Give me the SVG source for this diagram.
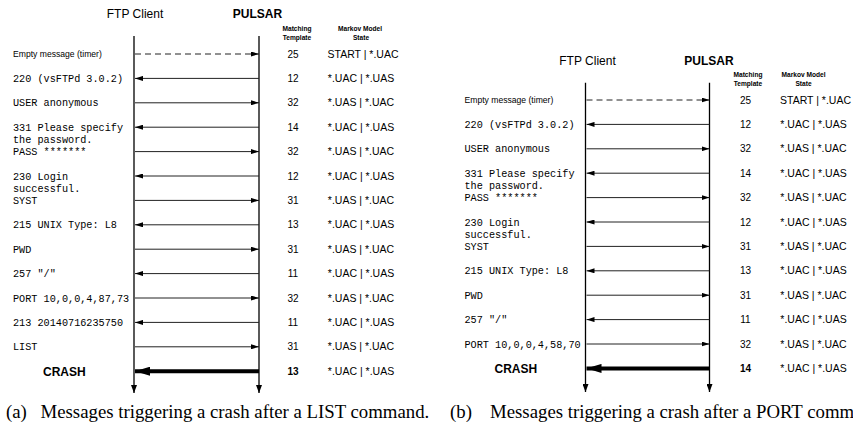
<svg xmlns="http://www.w3.org/2000/svg" width="853" height="434" viewBox="0 0 853 434">
<defs>
<style>
.hdr{font-family:"Liberation Sans",Arial,sans-serif;font-size:12px;fill:#000}
.hdrb{font-family:"Liberation Sans",Arial,sans-serif;font-size:12px;font-weight:bold;fill:#000}
.col{font-family:"Liberation Sans",Arial,sans-serif;font-size:6.6px;font-weight:bold;fill:#000;text-anchor:middle}
.num{font-family:"Liberation Sans",Arial,sans-serif;font-size:10px;fill:#000;text-anchor:middle}
.st{font-family:"Liberation Sans",Arial,sans-serif;font-size:10.5px;fill:#000;text-anchor:middle}
.ms{font-family:"Liberation Mono","Courier New",monospace;font-size:10.2px;fill:#000}
.sn{font-family:"Liberation Sans",Arial,sans-serif;font-size:8.6px;fill:#000}
.crash{font-family:"Liberation Sans",Arial,sans-serif;font-size:12px;font-weight:bold;fill:#000}
.cap{font-family:"Liberation Serif","Times New Roman",serif;font-size:18.8px;fill:#000}
.life{stroke:#000;stroke-width:1.3;fill:none}
.msg{stroke:#222;stroke-width:1;fill:none}
.dash{stroke:#222;stroke-width:1;fill:none;stroke-dasharray:6 4}
.big{stroke:#000;stroke-width:4;fill:none}
</style>
<marker id="ah" viewBox="0 0 8 5" refX="8" refY="2.5" markerWidth="8" markerHeight="5" markerUnits="userSpaceOnUse" orient="auto"><path d="M0,0 L8,2.5 L0,5 z" fill="#000"/></marker>
<marker id="bh" viewBox="0 0 15 9" refX="15" refY="4.5" markerWidth="15" markerHeight="9" markerUnits="userSpaceOnUse" orient="auto"><path d="M0,0 L15,4.5 L0,9 z" fill="#000"/></marker>
<marker id="lh" viewBox="0 0 8 6" refX="8" refY="3" markerWidth="8" markerHeight="6" markerUnits="userSpaceOnUse" orient="auto"><path d="M0,0 L8,3 L0,6 z" fill="#000"/></marker>
</defs>
<rect width="853" height="434" fill="#fff"/>

<!-- Panel (a) -->
<g id="panel-a">
  <g id="a-client"><text class="hdr" x="135" y="18" text-anchor="middle">FTP Client</text></g>
  <g id="a-pulsar"><text class="hdrb" x="257.5" y="18" text-anchor="middle">PULSAR</text></g>
  <g id="a-headers">
    <text class="col" x="297" y="31">Matching</text>
    <text class="col" x="297" y="40">Template</text>
    <text class="col" x="360" y="31">Markov Model</text>
    <text class="col" x="361" y="40">State</text>
  </g>
  <g id="a-connectors">
    <line class="life" x1="134" y1="36" x2="134" y2="393" marker-end="url(#lh)"/>
    <line class="life" x1="259" y1="36" x2="259" y2="393" marker-end="url(#lh)"/>
    <line class="dash" x1="135" y1="54" x2="259" y2="54" marker-end="url(#ah)"/>
    <line class="msg" x1="259" y1="78.4" x2="135" y2="78.4" marker-end="url(#ah)"/>
    <line class="msg" x1="135" y1="102.8" x2="259" y2="102.8" marker-end="url(#ah)"/>
    <line class="msg" x1="259" y1="127.2" x2="135" y2="127.2" marker-end="url(#ah)"/>
    <line class="msg" x1="135" y1="151.6" x2="259" y2="151.6" marker-end="url(#ah)"/>
    <line class="msg" x1="259" y1="176" x2="135" y2="176" marker-end="url(#ah)"/>
    <line class="msg" x1="135" y1="200.4" x2="259" y2="200.4" marker-end="url(#ah)"/>
    <line class="msg" x1="259" y1="224.8" x2="135" y2="224.8" marker-end="url(#ah)"/>
    <line class="msg" x1="135" y1="249.2" x2="259" y2="249.2" marker-end="url(#ah)"/>
    <line class="msg" x1="259" y1="273.6" x2="135" y2="273.6" marker-end="url(#ah)"/>
    <line class="msg" x1="135" y1="298" x2="259" y2="298" marker-end="url(#ah)"/>
    <line class="msg" x1="259" y1="322.4" x2="135" y2="322.4" marker-end="url(#ah)"/>
    <line class="msg" x1="135" y1="346.8" x2="259" y2="346.8" marker-end="url(#ah)"/>
    <line class="big" x1="259" y1="371.2" x2="135" y2="371.2" marker-end="url(#bh)"/>
  </g>
  <g id="a-labels">
    <text class="sn" x="13" y="57.2">Empty message (timer)</text>
    <text class="ms" x="13" y="81.9">220 (vsFTPd 3.0.2)</text>
    <text class="ms" x="13" y="106.3">USER anonymous</text>
    <text class="ms" x="13" y="130.7">331 Please specify</text>
    <text class="ms" x="13" y="142.5">the password.</text>
    <text class="ms" x="13" y="155.1">PASS *******</text>
    <text class="ms" x="13" y="179.5">230 Login</text>
    <text class="ms" x="13" y="191.5">successful.</text>
    <text class="ms" x="13" y="203.9">SYST</text>
    <text class="ms" x="13" y="228.3">215 UNIX Type: L8</text>
    <text class="ms" x="13" y="252.7">PWD</text>
    <text class="ms" x="13" y="277.1">257 "/"</text>
    <text class="ms" x="13" y="301.5">PORT 10,0,0,4,87,73</text>
    <text class="ms" x="13" y="325.9">213 20140716235750</text>
    <text class="ms" x="13" y="350.3">LIST</text>
    <text class="crash" x="43" y="375.5">CRASH</text>
  </g>
  <g id="a-templates">
    <text class="num" x="293" y="57.6">25</text>
    <text class="num" x="293" y="82">12</text>
    <text class="num" x="293" y="106.4">32</text>
    <text class="num" x="293" y="130.8">14</text>
    <text class="num" x="293" y="155.2">32</text>
    <text class="num" x="293" y="179.6">12</text>
    <text class="num" x="293" y="204">31</text>
    <text class="num" x="293" y="228.4">13</text>
    <text class="num" x="293" y="252.8">31</text>
    <text class="num" x="293" y="277.2">11</text>
    <text class="num" x="293" y="301.6">32</text>
    <text class="num" x="293" y="326">11</text>
    <text class="num" x="293" y="350.4">31</text>
    <text class="num" x="293" y="374.8" font-weight="bold">13</text>
  </g>
  <g id="a-states">
    <text class="st" x="363" y="57.6">START | *.UAC</text>
    <text class="st" x="361" y="82">*.UAC | *.UAS</text>
    <text class="st" x="361" y="106.4">*.UAS | *.UAC</text>
    <text class="st" x="361" y="130.8">*.UAC | *.UAS</text>
    <text class="st" x="361" y="155.2">*.UAS | *.UAC</text>
    <text class="st" x="361" y="179.6">*.UAC | *.UAS</text>
    <text class="st" x="361" y="204">*.UAS | *.UAC</text>
    <text class="st" x="361" y="228.4">*.UAC | *.UAS</text>
    <text class="st" x="361" y="252.8">*.UAS | *.UAC</text>
    <text class="st" x="361" y="277.2">*.UAC | *.UAS</text>
    <text class="st" x="361" y="301.6">*.UAS | *.UAC</text>
    <text class="st" x="361" y="326">*.UAC | *.UAS</text>
    <text class="st" x="361" y="350.4">*.UAS | *.UAC</text>
    <text class="st" x="361" y="374.8">*.UAC | *.UAS</text>
  </g>
  <g id="a-caption">
    <text class="cap" x="6" y="418">(a)</text>
    <text class="cap" x="40.5" y="418">Messages triggering a crash after a LIST command.</text>
  </g>
</g>

<!-- Panel (b) -->
<g id="panel-b" transform="translate(451.5,46)">
  <g id="b-client"><text class="hdr" x="136" y="19" text-anchor="middle">FTP Client</text></g>
  <g id="b-pulsar"><text class="hdrb" x="257.5" y="19" text-anchor="middle">PULSAR</text></g>
  <g id="b-headers">
    <text class="col" x="296.5" y="30.5">Matching</text>
    <text class="col" x="296.5" y="39.5">Template</text>
    <text class="col" x="352" y="30.5" font-size="5.6">Markov Model</text>
    <text class="col" x="352" y="39.5" font-size="5.6">State</text>
  </g>
  <g id="b-connectors">
    <line class="life" x1="134" y1="36.7" x2="134" y2="346" marker-end="url(#lh)"/>
    <line class="life" x1="258" y1="36.7" x2="258" y2="346" marker-end="url(#lh)"/>
    <line class="dash" x1="135" y1="54" x2="258" y2="54" marker-end="url(#ah)"/>
    <line class="msg" x1="258" y1="78.4" x2="135" y2="78.4" marker-end="url(#ah)"/>
    <line class="msg" x1="135" y1="102.8" x2="258" y2="102.8" marker-end="url(#ah)"/>
    <line class="msg" x1="258" y1="127.2" x2="135" y2="127.2" marker-end="url(#ah)"/>
    <line class="msg" x1="135" y1="151.6" x2="258" y2="151.6" marker-end="url(#ah)"/>
    <line class="msg" x1="258" y1="176" x2="135" y2="176" marker-end="url(#ah)"/>
    <line class="msg" x1="135" y1="200.4" x2="258" y2="200.4" marker-end="url(#ah)"/>
    <line class="msg" x1="258" y1="224.8" x2="135" y2="224.8" marker-end="url(#ah)"/>
    <line class="msg" x1="135" y1="249.2" x2="258" y2="249.2" marker-end="url(#ah)"/>
    <line class="msg" x1="258" y1="273.6" x2="135" y2="273.6" marker-end="url(#ah)"/>
    <line class="msg" x1="135" y1="298" x2="258" y2="298" marker-end="url(#ah)"/>
    <line class="big" x1="258" y1="322.4" x2="135" y2="322.4" marker-end="url(#bh)"/>
  </g>
  <g id="b-labels">
    <text class="sn" x="13" y="57.2">Empty message (timer)</text>
    <text class="ms" x="13" y="81.9">220 (vsFTPd 3.0.2)</text>
    <text class="ms" x="13" y="106.3">USER anonymous</text>
    <text class="ms" x="13" y="130.7">331 Please specify</text>
    <text class="ms" x="13" y="142.5">the password.</text>
    <text class="ms" x="13" y="155.1">PASS *******</text>
    <text class="ms" x="13" y="179.5">230 Login</text>
    <text class="ms" x="13" y="191.5">successful.</text>
    <text class="ms" x="13" y="203.9">SYST</text>
    <text class="ms" x="13" y="228.3">215 UNIX Type: L8</text>
    <text class="ms" x="13" y="252.7">PWD</text>
    <text class="ms" x="13" y="277.1">257 "/"</text>
    <text class="ms" x="13" y="301.5">PORT 10,0,0,4,58,70</text>
    <text class="crash" x="43" y="326.7">CRASH</text>
  </g>
  <g id="b-templates">
    <text class="num" x="294" y="57.6">25</text>
    <text class="num" x="294" y="82">12</text>
    <text class="num" x="294" y="106.4">32</text>
    <text class="num" x="294" y="130.8">14</text>
    <text class="num" x="294" y="155.2">32</text>
    <text class="num" x="294" y="179.6">12</text>
    <text class="num" x="294" y="204">31</text>
    <text class="num" x="294" y="228.4">13</text>
    <text class="num" x="294" y="252.8">31</text>
    <text class="num" x="294" y="277.2">11</text>
    <text class="num" x="294" y="301.6">32</text>
    <text class="num" x="294" y="326" font-weight="bold">14</text>
  </g>
  <g id="b-states">
    <text class="st" x="364" y="57.6">START | *.UAC</text>
    <text class="st" x="362" y="82">*.UAC | *.UAS</text>
    <text class="st" x="362" y="106.4">*.UAS | *.UAC</text>
    <text class="st" x="362" y="130.8">*.UAC | *.UAS</text>
    <text class="st" x="362" y="155.2">*.UAS | *.UAC</text>
    <text class="st" x="362" y="179.6">*.UAC | *.UAS</text>
    <text class="st" x="362" y="204">*.UAS | *.UAC</text>
    <text class="st" x="362" y="228.4">*.UAC | *.UAS</text>
    <text class="st" x="362" y="252.8">*.UAS | *.UAC</text>
    <text class="st" x="362" y="277.2">*.UAC | *.UAS</text>
    <text class="st" x="362" y="301.6">*.UAS | *.UAC</text>
    <text class="st" x="362" y="326">*.UAC | *.UAS</text>
  </g>
</g>
<g id="b-caption">
  <text class="cap" x="450" y="418">(b)</text>
  <text class="cap" x="490" y="418">Messages triggering a crash after a PORT command.</text>
</g>
</svg>
